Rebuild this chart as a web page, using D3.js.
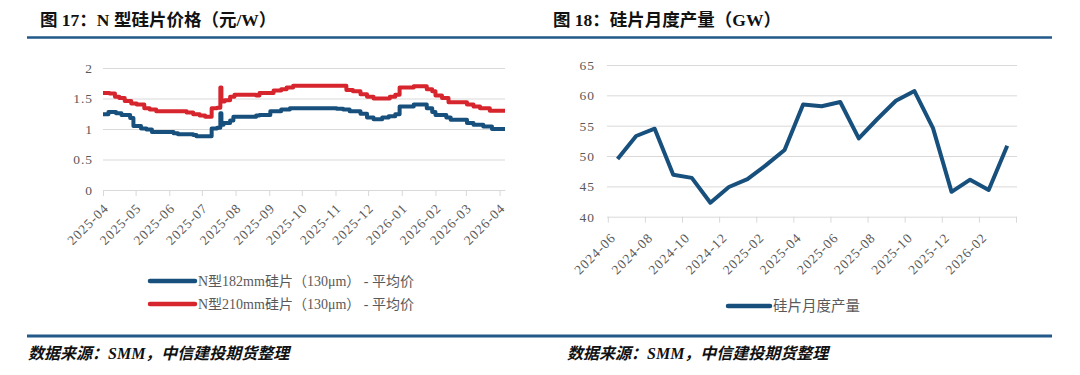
<!DOCTYPE html>
<html lang="zh">
<head>
<meta charset="utf-8">
<title>硅片价格与产量</title>
<script src="https://d3js.org/d3.v7.min.js"></script>
<style>
  body { margin: 0; background: #fff; }
  svg { display: block; }
  .tick text { font-family: "Liberation Serif", "Noto Sans CJK SC", serif; fill: #595959; }
  .title { font-family: "Liberation Serif", "Noto Sans CJK SC", serif; font-weight: bold; fill: #111; }
  .source { font-family: "Liberation Serif", "Noto Sans CJK SC", serif; font-weight: bold; font-style: italic; fill: #111; }
  .legend { font-family: "Liberation Serif", "Noto Sans CJK SC", serif; fill: #595959; }
</style>
</head>
<body>
<div id="chart"></div>
<script>
// ---- left chart: N型硅片价格 (step data, date of each price change) ----
var dates182 = ["2025-04-01","2025-04-06","2025-04-13","2025-04-18","2025-04-26","2025-04-29","2025-05-06","2025-05-11",
  "2025-05-16","2025-06-05","2025-06-09","2025-06-23","2025-06-26","2025-07-10","2025-07-15","2025-07-18","2025-07-19",
  "2025-07-21","2025-07-27","2025-07-30","2025-08-20","2025-08-23","2025-09-02","2025-09-12","2025-09-20","2025-11-02",
  "2025-11-08","2025-11-14","2025-11-24","2025-11-30","2025-12-06","2025-12-14","2025-12-20","2025-12-26","2025-12-30",
  "2026-01-12","2026-01-24","2026-01-29","2026-02-01","2026-02-11","2026-02-15","2026-03-02","2026-03-08","2026-03-17",
  "2026-03-25","2026-04-06"]
var price182 = [1.24,1.28,1.26,1.23,1.18,1.05,1.01,0.99,
  0.95,0.93,0.915,0.90,0.88,1.01,1.02,1.26,1.07,
  1.10,1.14,1.20,1.22,1.23,1.29,1.32,1.34,1.33,
  1.32,1.29,1.25,1.19,1.16,1.19,1.21,1.24,1.37,
  1.40,1.34,1.28,1.23,1.19,1.15,1.10,1.07,1.04,
  1.00,1.00]

var dates210 = ["2025-04-01","2025-04-07","2025-04-12","2025-04-16","2025-04-21","2025-04-27","2025-05-02","2025-05-09",
  "2025-05-14","2025-05-20","2025-06-17","2025-06-23","2025-06-29","2025-07-04","2025-07-10","2025-07-15","2025-07-18",
  "2025-07-19","2025-07-22","2025-07-27","2025-07-31","2025-08-20","2025-08-23","2025-09-05","2025-09-12","2025-09-17",
  "2025-09-23","2025-11-11","2025-11-17","2025-11-24","2025-11-30","2025-12-06","2025-12-21","2025-12-26","2025-12-30",
  "2026-01-12","2026-01-24","2026-01-29","2026-02-01","2026-02-07","2026-02-13","2026-03-02","2026-03-08","2026-03-14",
  "2026-03-23","2026-04-06"]
var price210 = [1.59,1.58,1.53,1.51,1.46,1.42,1.40,1.34,
  1.32,1.29,1.27,1.24,1.22,1.20,1.34,1.35,1.68,
  1.45,1.47,1.53,1.56,1.55,1.59,1.63,1.65,1.68,
  1.71,1.64,1.62,1.57,1.53,1.50,1.53,1.56,1.68,
  1.70,1.65,1.62,1.55,1.51,1.44,1.40,1.37,1.34,
  1.30,1.30]

var priceTicks = [0, 0.5, 1, 1.5, 2]
var priceNames = ["N型182mm硅片（130μm） - 平均价", "N型210mm硅片（130μm） - 平均价"]

// ---- right chart: 硅片月度产量 (GW) ----
var months = ["2024-06","2024-07","2024-08","2024-09","2024-10","2024-11","2024-12","2025-01","2025-02","2025-03",
  "2025-04","2025-05","2025-06","2025-07","2025-08","2025-09","2025-10","2025-11","2025-12","2026-01","2026-02","2026-03"]
var output = [49.5,53.3,54.5,46.9,46.4,42.3,44.9,46.2,48.5,51.0,
  58.5,58.2,58.9,52.9,56.1,59.1,60.7,54.6,44.1,46.1,44.4,51.7]
var outputTicks = [40, 45, 50, 55, 60, 65]

var blue = "#17507d", red = "#d7252d", grid = "#d9d9d9", rule = "#22598a"

var svg = d3.select("#chart").append("svg").attr("width", 1080).attr("height", 375)

// header / footer rules and texts
svg.append("line").attr("x1", 27).attr("x2", 1052).attr("y1", 37.5).attr("y2", 37.5)
  .attr("stroke", rule).attr("stroke-width", 2.5)
svg.append("line").attr("x1", 27).attr("x2", 1052).attr("y1", 336).attr("y2", 336)
  .attr("stroke", rule).attr("stroke-width", 3)
svg.append("text").attr("class", "title").attr("x", 40).attr("y", 26).attr("font-size", "17.5px")
  .text("图 17：N 型硅片价格（元/W）")
svg.append("text").attr("class", "title").attr("x", 553).attr("y", 26).attr("font-size", "17.5px")
  .text("图 18：硅片月度产量（GW）")
svg.append("text").attr("class", "source").attr("x", 28).attr("y", 359).attr("font-size", "16px")
  .text("数据来源：SMM，中信建投期货整理")
svg.append("text").attr("class", "source").attr("x", 567).attr("y", 359).attr("font-size", "16px")
  .text("数据来源：SMM，中信建投期货整理")

// ================= left chart =================
var parse = d3.timeParse("%Y-%m-%d")
var x1 = d3.scaleTime().domain([parse("2025-04-01"), parse("2026-04-06")]).range([103, 505])
var y1 = d3.scaleLinear().domain([0, 2]).range([190, 68])

var gy1 = svg.append("g").attr("transform", "translate(103,0)")
  .call(d3.axisLeft(y1).tickValues(priceTicks).tickSize(-402).tickPadding(10).tickFormat(function(d){ return String(d) }))
gy1.select(".domain").remove()
gy1.selectAll(".tick line").attr("stroke", grid)
gy1.selectAll(".tick text").attr("font-size", "13.5px").attr("letter-spacing", "1px")

var gx1 = svg.append("g").attr("transform", "translate(0,190)")
  .call(d3.axisBottom(x1).ticks(d3.timeMonth.every(1)).tickFormat(d3.timeFormat("%Y-%m")).tickSize(6).tickSizeOuter(0))
gx1.select(".domain").attr("stroke", grid)
gx1.selectAll(".tick line").attr("stroke", grid)
gx1.selectAll(".tick text")
  .attr("font-size", "13.5px")
  .attr("letter-spacing", "1px")
  .attr("text-anchor", "end")
  .attr("dy", null)
  .attr("y", null)
  .attr("transform", "translate(6,19) rotate(-45)")

var line1 = d3.line().curve(d3.curveStepAfter)
  .x(function(d){ return x1(d[0]) }).y(function(d){ return y1(d[1]) })

var s182 = dates182.map(function(d, i){ return [parse(d), price182[i]] })
var s210 = dates210.map(function(d, i){ return [parse(d), price210[i]] })

svg.append("path").datum(s182).attr("d", line1).attr("fill", "none")
  .attr("stroke", blue).attr("stroke-width", 4).attr("stroke-linejoin", "round")
svg.append("path").datum(s210).attr("d", line1).attr("fill", "none")
  .attr("stroke", red).attr("stroke-width", 4).attr("stroke-linejoin", "round")

// left legend
var leg1 = svg.selectAll(".leg1").data(priceNames).enter().append("g").attr("class", "leg1")
  .attr("transform", function(d, i){ return "translate(150," + (281 + i * 23) + ")" })
leg1.append("line").attr("x1", 0).attr("x2", 45).attr("y1", 0).attr("y2", 0)
  .attr("stroke", function(d, i){ return i === 0 ? blue : red })
  .attr("stroke-width", 4.5).attr("stroke-linecap", "round")
leg1.append("text").attr("class", "legend").attr("x", 48).attr("y", 5).attr("font-size", "14px")
  .text(function(d){ return d })

// ================= right chart =================
var x2 = d3.scaleBand().domain(months).range([608.3, 1016.5])
var y2 = d3.scaleLinear().domain([40, 65]).range([216.7, 65])

var gy2 = svg.append("g").attr("transform", "translate(607,0)")
  .call(d3.axisLeft(y2).tickValues(outputTicks).tickSize(-410).tickPadding(12))
gy2.select(".domain").remove()
gy2.selectAll(".tick line").attr("stroke", grid)
gy2.selectAll(".tick text").attr("font-size", "13.5px").attr("letter-spacing", "1px")

// category axis: tick marks between every two months, labels on the even months
var bw = x2.bandwidth()
var tickIdx = d3.range(0, months.length + 1, 2)
svg.selectAll(".rtick").data(tickIdx).enter().append("line").attr("class", "rtick")
  .attr("x1", function(i){ return x2.range()[0] + i * bw }).attr("x2", function(i){ return x2.range()[0] + i * bw })
  .attr("y1", 216.7).attr("y2", 222.7).attr("stroke", grid)
svg.selectAll(".rlab").data(months.filter(function(d, i){ return i % 2 === 0 })).enter().append("text")
  .attr("class", "rlab")
  .attr("transform", function(d){ return "translate(" + (x2(d) + bw / 2 - 1) + ",238.5) rotate(-45)" })
  .attr("text-anchor", "end")
  .attr("font-family", "Liberation Serif, Noto Sans CJK SC, serif")
  .attr("font-size", "13.5px").attr("letter-spacing", "1px").attr("fill", "#595959")
  .text(function(d){ return d })

var line2 = d3.line()
  .x(function(d, i){ return x2(months[i]) + bw / 2 }).y(function(d){ return y2(d) })
svg.append("path").datum(output).attr("d", line2).attr("fill", "none")
  .attr("stroke", blue).attr("stroke-width", 4).attr("stroke-linejoin", "round")

// right legend
svg.append("line").attr("x1", 728).attr("x2", 770).attr("y1", 306).attr("y2", 306)
  .attr("stroke", blue).attr("stroke-width", 4.5).attr("stroke-linecap", "round")
svg.append("text").attr("class", "legend").attr("x", 773).attr("y", 311).attr("font-size", "14.5px")
  .text("硅片月度产量")
</script>
</body>
</html>
